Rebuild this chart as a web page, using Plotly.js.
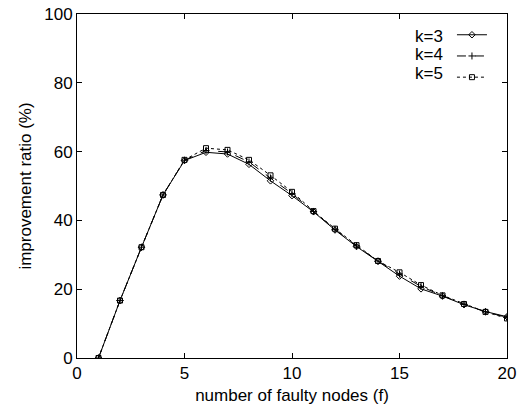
<!DOCTYPE html>
<html>
<head>
<meta charset="utf-8">
<script src="https://cdn.plot.ly/plotly-3.0.1.min.js"></script>
<style>html,body{margin:0;padding:0;background:#fff}#chart{width:524px;height:407px}</style>
</head>
<body>
<div id="chart"></div>
<script>
const faultyNodes = [1,2,3,4,5,6,7,8,9,10,11,12,13,14,15,16,17,18,19,20];
const k3 = [0,16.7,32.2,47.4,57.4,59.8,59.3,56.3,51.5,47.2,42.5,37.2,32.4,28.1,23.8,20.1,18.0,15.5,13.5,12.0];
const k4 = [0,16.7,32.2,47.4,57.5,60.3,59.9,57.0,52.3,47.8,42.6,37.4,32.6,28.2,24.4,20.8,18.1,15.6,13.4,11.8];
const k5 = [0,16.7,32.2,47.4,57.6,61.0,60.5,57.6,53.1,48.3,42.7,37.6,32.8,28.2,24.9,21.2,18.2,15.7,13.4,11.5];
const seriesNames = ['k=3','k=4','k=5'];
const xTicks = [0,5,10,15,20];
const yTicks = [0,20,40,60,80,100];

const font = 'Liberation Sans, Arial, sans-serif';
const traces = [
  {x: faultyNodes, y: k3, name: ' ', mode: 'lines+markers', line:{color:'#000', width:1, dash:'solid'},
   marker:{symbol:'diamond-open', size:5, color:'#000', line:{width:1}}},
  {x: faultyNodes, y: k4, name: ' ', mode: 'lines+markers', line:{color:'#000', width:1, dash:'dash'},
   marker:{symbol:'cross-thin-open', size:5, color:'#000', line:{width:1}}},
  {x: faultyNodes, y: k5, name: ' ', mode: 'lines+markers', line:{color:'#000', width:1, dash:'dot'},
   marker:{symbol:'square-open', size:5, color:'#000', line:{width:1}}}
];

const axisCommon = {showline:true, linecolor:'#000', linewidth:1, mirror:'ticks', ticks:'inside',
  ticklen:5, tickcolor:'#000', showgrid:false, zeroline:false, tickfont:{family:font, size:17, color:'#000'}};

const annotations = seriesNames.map((n,i)=>({xref:'paper', yref:'paper', x:0.855, y:0.935 - i*0.054,
  xanchor:'right', yanchor:'middle', text:n, showarrow:false, font:{family:font, size:17, color:'#000'}}));

const layout = {
  width:524, height:407,
  margin:{l:77, r:17, t:14, b:49},
  paper_bgcolor:'#fff', plot_bgcolor:'#fff',
  font:{family:font, color:'#000'},
  showlegend:true,
  legend:{x:0.872, y:0.985, xanchor:'left', yanchor:'top', bgcolor:'rgba(0,0,0,0)',
    font:{family:font, size:14}, itemwidth:30, tracegroupgap:0},
  annotations: annotations,
  xaxis: Object.assign({}, axisCommon, {range:[0,20], tickvals:xTicks,
    title:{text:'number of faulty nodes (f)', font:{family:font, size:17}, standoff:6}}),
  yaxis: Object.assign({}, axisCommon, {range:[0,100], tickvals:yTicks,
    title:{text:'improvement ratio (%)', font:{family:font, size:17}, standoff:8}})
};

Plotly.newPlot('chart', traces, layout, {staticPlot:true, displayModeBar:false});
</script>
</body>
</html>
